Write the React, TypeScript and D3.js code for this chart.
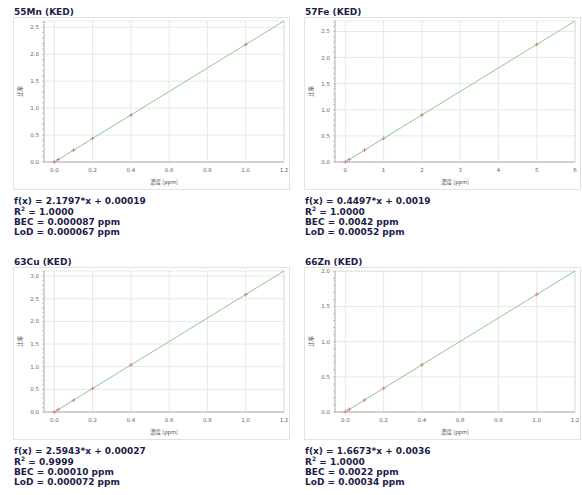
import * as d3 from 'd3';
import React, { useEffect, useRef } from 'react';

// standards concentration (ppm)
const concLow = [0, 0.02, 0.1, 0.2, 0.4, 1.0];
const concFe = [0, 0.1, 0.5, 1, 2, 5];

const mnRatio = [0.0002, 0.044, 0.218, 0.436, 0.872, 2.18];
const feRatio = [0.002, 0.047, 0.227, 0.451, 0.901, 2.25];
const cuRatio = [0.0003, 0.052, 0.26, 0.519, 1.038, 2.594];
const znRatio = [0.004, 0.037, 0.17, 0.337, 0.67, 1.671];

const titles = ['55Mn (KED)', '57Fe (KED)', '63Cu (KED)', '66Zn (KED)'];
const slopes = [2.1797, 0.4497, 2.5943, 1.6673];
const intercepts = [0.00019, 0.0019, 0.00027, 0.0036];
const xMaxes = [1.2, 6, 1.2, 1.2];
const xTickLists = [
  [0, 0.2, 0.4, 0.6, 0.8, 1.0, 1.2],
  [0, 1, 2, 3, 4, 5, 6],
  [0, 0.2, 0.4, 0.6, 0.8, 1.0, 1.2],
  [0, 0.2, 0.4, 0.6, 0.8, 1.0, 1.2],
];
const yTickLists = [
  [0, 0.5, 1.0, 1.5, 2.0, 2.5],
  [0, 0.5, 1.0, 1.5, 2.0, 2.5],
  [0, 0.5, 1.0, 1.5, 2.0, 2.5, 3.0],
  [0, 0.5, 1.0, 1.5, 2.0],
];
const statLines = [
  ['f(x) = 2.1797*x + 0.00019', '1.0000', 'BEC = 0.000087 ppm', 'LoD = 0.000067 ppm'],
  ['f(x) = 0.4497*x + 0.0019', '1.0000', 'BEC = 0.0042 ppm', 'LoD = 0.00052 ppm'],
  ['f(x) = 2.5943*x + 0.00027', '0.9999', 'BEC = 0.00010 ppm', 'LoD = 0.000072 ppm'],
  ['f(x) = 1.6673*x + 0.0036', '1.0000', 'BEC = 0.0022 ppm', 'LoD = 0.00034 ppm'],
];

const W = 582;
const H = 495;
const plot = { left: 44, right: 284, top: 21, bottom: 162 };
const textColor = '#1c1c4a';
const font = 'DejaVu Sans, sans-serif';

const App: React.FC = () => {
  const svgRef = useRef<SVGSVGElement>(null);
  useEffect(() => {
    if (!svgRef.current) return;
    const svg = d3.select(svgRef.current);
    svg.selectAll('*').remove();
    const concs = [concLow, concFe, concLow, concLow];
    const ratios = [mnRatio, feRatio, cuRatio, znRatio];
    const origins = [
      [0, 0],
      [291, 0],
      [0, 250],
      [291, 250],
    ];

    titles.forEach((title, i) => {
      const g = svg.append('g').attr('transform', `translate(${origins[i][0]},${origins[i][1]})`);
      const xMax = xMaxes[i];
      const yMax = slopes[i] * xMax + intercepts[i];
      const x = d3.scaleLinear().domain([-0.045 * xMax, xMax]).range([plot.left, plot.right]);
      const y = d3.scaleLinear().domain([0, yMax]).range([plot.bottom, plot.top]);

      g.append('text')
        .attr('x', 14)
        .attr('y', 15)
        .attr('font-family', font)
        .attr('font-weight', 'bold')
        .attr('font-size', 9)
        .attr('fill', textColor)
        .text(title);

      g.append('rect')
        .attr('x', 13.5)
        .attr('y', 17.5)
        .attr('width', 276)
        .attr('height', 172)
        .attr('fill', '#fff')
        .attr('stroke', '#e2e2e2');

      // grid
      g.selectAll('.vgrid')
        .data(xTickLists[i])
        .enter()
        .append('line')
        .attr('x1', (d) => x(d))
        .attr('x2', (d) => x(d))
        .attr('y1', plot.top)
        .attr('y2', plot.bottom)
        .attr('stroke', '#e8e8e8');
      g.selectAll('.hgrid')
        .data(yTickLists[i])
        .enter()
        .append('line')
        .attr('x1', plot.left)
        .attr('x2', plot.right)
        .attr('y1', (d) => y(d))
        .attr('y2', (d) => y(d))
        .attr('stroke', '#e8e8e8');

      g.append('rect')
        .attr('x', plot.left)
        .attr('y', plot.top)
        .attr('width', plot.right - plot.left)
        .attr('height', plot.bottom - plot.top)
        .attr('fill', 'none')
        .attr('stroke', '#d0d0d0')
        .attr('stroke-dasharray', '1,1');
      g.append('line')
        .attr('x1', plot.left)
        .attr('x2', plot.left)
        .attr('y1', plot.top)
        .attr('y2', plot.bottom)
        .attr('stroke', '#b8b8b8');
      g.append('line')
        .attr('x1', plot.left)
        .attr('x2', plot.right)
        .attr('y1', plot.bottom)
        .attr('y2', plot.bottom)
        .attr('stroke', '#b8b8b8');

      // minor ticks on y axis
      g.selectAll('.ytick')
        .data(d3.range(0, yMax, 0.1))
        .enter()
        .append('line')
        .attr('x1', plot.left - 2)
        .attr('x2', plot.left)
        .attr('y1', (d) => y(d))
        .attr('y2', (d) => y(d))
        .attr('stroke', '#c0c0c0');

      const tickFmt = xMax > 2 ? d3.format('d') : d3.format('.1f');
      g.selectAll('.xlab')
        .data(xTickLists[i])
        .enter()
        .append('text')
        .attr('x', (d) => x(d))
        .attr('y', 172)
        .attr('text-anchor', 'middle')
        .attr('font-family', font)
        .attr('font-size', 5.5)
        .attr('fill', '#666')
        .text((d) => tickFmt(d));
      g.selectAll('.ylab')
        .data(yTickLists[i])
        .enter()
        .append('text')
        .attr('x', 39)
        .attr('y', (d) => y(d) + 2)
        .attr('text-anchor', 'end')
        .attr('font-family', font)
        .attr('font-size', 5.5)
        .attr('fill', '#666')
        .text((d) => d3.format('.1f')(d));

      g.append('text')
        .attr('x', (plot.left + plot.right) / 2)
        .attr('y', 184)
        .attr('text-anchor', 'middle')
        .attr('font-family', 'Noto Sans CJK JP, DejaVu Sans, sans-serif')
        .attr('font-size', 5.5)
        .attr('fill', '#555')
        .text('濃度 [ppm]');
      g.append('text')
        .attr('transform', `translate(22,${(plot.top + plot.bottom) / 2}) rotate(-90)`)
        .attr('text-anchor', 'middle')
        .attr('font-family', 'Noto Sans CJK JP, DejaVu Sans, sans-serif')
        .attr('font-size', 5.5)
        .attr('fill', '#555')
        .text('比率');

      // fit line
      g.append('line')
        .attr('x1', x(0))
        .attr('y1', y(intercepts[i]))
        .attr('x2', x(xMax))
        .attr('y2', y(yMax))
        .attr('stroke', '#7cc47c')
        .attr('stroke-width', 0.9);

      // standards
      const pts = concs[i].map((c, k) => ({ c, r: ratios[i][k] }));
      const mk = g.selectAll('.pt').data(pts).enter().append('g');
      mk.append('line')
        .attr('x1', (d) => x(d.c) - 2)
        .attr('x2', (d) => x(d.c) + 2)
        .attr('y1', (d) => y(d.r))
        .attr('y2', (d) => y(d.r))
        .attr('stroke', '#e07070')
        .attr('stroke-width', 0.8);
      mk.append('line')
        .attr('x1', (d) => x(d.c))
        .attr('x2', (d) => x(d.c))
        .attr('y1', (d) => y(d.r) - 2)
        .attr('y2', (d) => y(d.r) + 2)
        .attr('stroke', '#e07070')
        .attr('stroke-width', 0.8);

      // statistics text
      const lines = statLines[i];
      const baseY = [203.5, 214.5, 225, 235];
      lines.forEach((s, k) => {
        const t = g
          .append('text')
          .attr('x', 14)
          .attr('y', baseY[k])
          .attr('font-family', font)
          .attr('font-weight', 'bold')
          .attr('font-size', 9)
          .attr('fill', textColor);
        if (k === 1) {
          t.append('tspan').text('R');
          t.append('tspan').attr('font-size', 6).attr('dy', -3.5).text('2');
          t.append('tspan').attr('dy', 3.5).text(' = ' + s);
        } else {
          t.text(s);
        }
      });
    });
  }, []);
  return (
    <svg
      ref={svgRef}
      width={W}
      height={H}
      viewBox={`0 0 ${W} ${H}`}
      style={{ position: 'absolute', left: 0, top: 0, background: '#fff' }}
    />
  );
};

export default App;
